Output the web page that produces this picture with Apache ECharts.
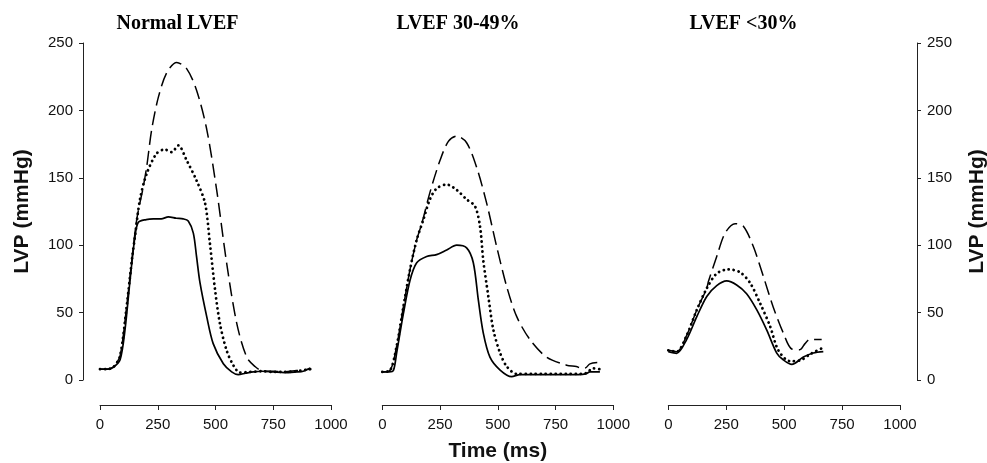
<!DOCTYPE html>
<html>
<head>
<meta charset="utf-8">
<script src="https://cdn.jsdelivr.net/npm/echarts@6/dist/echarts.min.js"></script>
<style>
html,body{margin:0;padding:0;background:#fff;}
#chart{width:987px;height:463px;}
</style>
</head>
<body>
<div id="chart"></div>
<script>
// ---------- data (time in ms, LVP in mmHg) ----------
const panelTitles = ["Normal LVEF", "LVEF 30-49%", "LVEF <30%"];
const xTicks = [0, 250, 500, 750, 1000];
const yTicks = [0, 50, 100, 150, 200, 250];

// Panel 1: Normal LVEF
const p1SolidT  = [0,30,58,87,108,130,151,166,200,231,265,296,330,360,382,404,418,433,462,490,534,570,598,630,664,700,750,800,850,880,910];
const p1SolidV  = [8,8,9.5,15,37,74,106,117,119,119.5,119.5,121,120,119.5,118,109,91.5,72,47,27,12,6,4,5,6,6.5,6,5.5,6,6.5,9];
const p1DotT    = [0,30,60,87,115,140,151,173,202,245,281,310,339,375,418,455,476,498,519,548,577,606,650,700,750,800,850,910];
const p1DotV    = [8,8,10,18,54,92,106,134,153,168,171,169,174,163,148,131,101,67,42,22,11,5.5,6,6.5,6,6,6.5,8];
const p1DashT   = [0,30,60,87,115,140,160,187,202,224,253,289,332,375,418,462,505,548,592,635,671,700,750,800,850,910];
const p1DashV   = [8,8,10,18,54,92,120,143,158,186,210,228,235.5,231,215,186,141,87,42,17,10,7,6.5,6,7,8];

// Panel 2: LVEF 30-49%
const p2SolidT  = [0,30,48,62,91,120,149,192,235,279,322,365,394,416,437,466,510,560,596,650,700,750,800,850,880,899,942];
const p2SolidV  = [6,6,7,20,49,74,87,91.6,93,96.5,100,98,87,59,35,17,7.4,2.5,4,4,4,4,4,4,4.5,6,6];
const p2DotT    = [0,33,62,91,120,149,178,206,235,279,322,365,401,423,437,459,481,510,539,582,650,700,750,800,850,880,914,940];
const p2DotV    = [6,7,25,54,82,104,119,134,142,145,141,134,129,114,89,62,37,20,10,4.5,4.5,4.5,4.5,4.5,4.5,5,8.7,8];
const p2DashT   = [0,33,62,91,120,149,171,206,250,286,322,365,408,452,495,539,582,639,711,798,840,863,880,899,935];
const p2DashV   = [6,7,25,54,82,104,116,139,163,177,181,176,158,131,99,69,47,30,17,11,10,8.7,9,12,13];

// Panel 3: LVEF <30%
const p3SolidT  = [0,36,79,123,166,209,252,295,338,382,425,468,496,533,583,626,669];
const p3SolidV  = [21,19.8,30,47,62,70,73.5,70.5,64,52,37,20,15,11.6,17,20,21];
const p3DotT    = [0,36,79,123,166,209,259,309,353,396,439,475,525,568,611,662];
const p3DotV    = [22,21,33,52,68,79,82,80,72,57,40,22,14,14.5,19,23.5];
const p3DashT   = [0,36,79,123,166,173,209,245,288,324,367,410,453,496,533,568,590,611,662];
const p3DashV   = [22,21,33,52,68,73,91.6,109,116,114,99,77,54,35,23,22.5,27,30,30];

// ---------- chart ----------
function zip(t, v) { return t.map((x, i) => [x, v[i]]); }

const tickFont = '"Liberation Sans", Arial, sans-serif';
const grids = [
  {left: 100, top: 43, width: 231, height: 337, outerBoundsMode: 'none', containLabel: false},
  {left: 382.3, top: 43, width: 231, height: 337, outerBoundsMode: 'none', containLabel: false},
  {left: 668.3, top: 43, width: 231.7, height: 337, outerBoundsMode: 'none', containLabel: false}
];

function xAx(i, extra) {
  return Object.assign({
    type: 'value', gridIndex: i, min: xTicks[0], max: xTicks[xTicks.length-1], interval: 250,
    position: 'bottom', offset: 25,
    axisLine: {show: true, onZero: false, lineStyle: {color: '#222', width: 1}},
    axisTick: {show: true, length: 5, lineStyle: {color: '#222'}},
    axisLabel: {margin: 12, fontSize: 15, color: '#111', fontFamily: tickFont,
                formatter: v => String(v)},
    splitLine: {show: false}
  }, extra || {});
}
function yAx(i, show, pos) {
  return {
    type: 'value', gridIndex: i, min: yTicks[0], max: yTicks[yTicks.length-1], interval: 50, show: show,
    position: pos, offset: 17,
    axisLine: {show: true, onZero: false, lineStyle: {color: '#222', width: 1}},
    axisTick: {show: true, length: 4, lineStyle: {color: '#222'}},
    axisLabel: {margin: 10, fontSize: 15, color: '#111', fontFamily: tickFont},
    splitLine: {show: false},
    name: 'LVP (mmHg)', nameLocation: 'middle', nameGap: 50,
    nameTextStyle: {fontSize: 21, fontWeight: 'bold', color: '#111', fontFamily: tickFont}
  };
}

function mk(name, t, v, idx, style) {
  const ls = {color: '#000'};
  if (style === 'solid') { ls.width = 1.7; ls.type = 'solid'; }
  if (style === 'dot')   { ls.width = 2.8; ls.type = [0.1, 4.9]; ls.cap = 'round'; }
  if (style === 'dash')  { ls.width = 1.5; ls.type = [14, 6]; }
  return {
    name: name, type: 'line', xAxisIndex: idx, yAxisIndex: idx,
    data: zip(t, v), showSymbol: false, smooth: 0.3, lineStyle: ls,
    emphasis: {disabled: true}
  };
}

const titleX = [177.5, 458, 743.5];
const option = {
  animation: false,
  backgroundColor: '#fff',
  grid: grids,
  xAxis: [
    xAx(0),
    xAx(1, {name: 'Time (ms)', nameLocation: 'middle', nameGap: 36,
            nameTextStyle: {fontSize: 21, fontWeight: 'bold', color: '#111', fontFamily: tickFont}}),
    xAx(2)
  ],
  yAxis: [yAx(0, true, 'left'), yAx(1, false, 'left'), yAx(2, true, 'right')],
  graphic: panelTitles.map((t, i) => ({
    type: 'text', x: titleX[i], y: 24,
    style: {text: t, font: 'bold 20px "Liberation Serif", "Times New Roman", serif',
            fill: '#000', textAlign: 'center', verticalAlign: 'middle', textVerticalAlign: 'middle'}
  })),
  series: [
    mk('p1dash', p1DashT, p1DashV, 0, 'dash'),
    mk('p1dot', p1DotT, p1DotV, 0, 'dot'),
    mk('p1solid', p1SolidT, p1SolidV, 0, 'solid'),
    mk('p2dash', p2DashT, p2DashV, 1, 'dash'),
    mk('p2dot', p2DotT, p2DotV, 1, 'dot'),
    mk('p2solid', p2SolidT, p2SolidV, 1, 'solid'),
    mk('p3dash', p3DashT, p3DashV, 2, 'dash'),
    mk('p3dot', p3DotT, p3DotV, 2, 'dot'),
    mk('p3solid', p3SolidT, p3SolidV, 2, 'solid')
  ]
};
const chart = echarts.init(document.getElementById('chart'), null, {renderer: 'canvas'});
chart.setOption(option);
</script>
</body>
</html>
